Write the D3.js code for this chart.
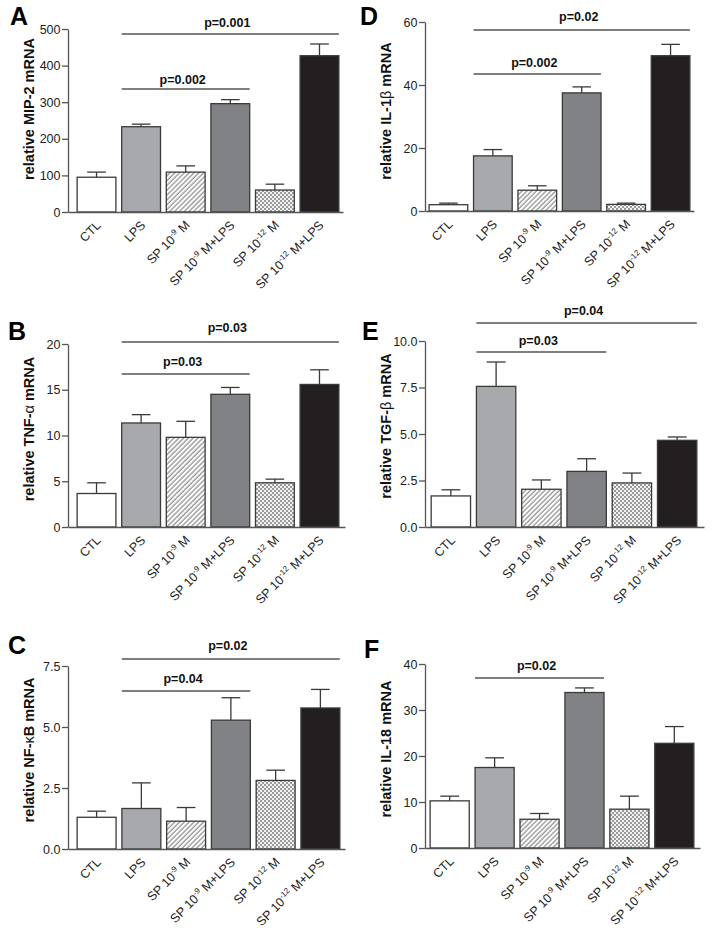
<!DOCTYPE html>
<html><head><meta charset="utf-8">
<script src="https://cdn.jsdelivr.net/npm/d3@7"></script>
<style>
html,body{margin:0;padding:0;background:#fff;}
svg{display:block;font-family:"Liberation Sans",Arial,Helvetica,sans-serif;}
</style>
</head><body>
<svg id="chart" width="714" height="938"></svg>
<script>
// ---------- data ----------
const categories = ["CTL","LPS","SP9","SP9LPS","SP12","SP12LPS"];
const labelBase = ["CTL","LPS","SP 10","SP 10","SP 10","SP 10"];
const labelSup  = ["","","-9","-9","-12","-12"];
const labelTail = ["",""," M"," M+LPS"," M"," M+LPS"];

const mip2Mean = [95, 233, 109, 296, 60, 427];
const mip2Sem  = [14, 7, 17, 11, 16, 32];
const il1bMean = [2.0, 17.5, 6.6, 37.5, 2.1, 49.3];
const il1bSem  = [0.5, 2.0, 1.4, 1.9, 0.4, 3.6];
const tnfMean  = [3.66, 11.37, 9.8, 14.5, 4.83, 15.58];
const tnfSem   = [1.17, 0.91, 1.75, 0.75, 0.4, 1.6];
const tgfMean  = [1.67, 7.56, 2.03, 2.99, 2.37, 4.66];
const tgfSem   = [0.33, 1.31, 0.5, 0.68, 0.53, 0.18];
const nfkbMean = [1.30, 1.66, 1.14, 5.28, 2.81, 5.78];
const nfkbSem  = [0.25, 1.05, 0.56, 0.92, 0.42, 0.76];
const il18Mean = [10.25, 17.5, 6.25, 33.8, 8.44, 22.76];
const il18Sem  = [1.02, 2.1, 1.25, 1.0, 2.83, 3.64];

const ticksA = [0,100,200,300,400,500];
const ticksD = [0,20,40,60];
const ticksB = [0,5,10,15,20];
const ticksE = [0,2.5,5,7.5,10];
const ticksC = [0,2.5,5,7.5];
const ticksF = [0,10,20,30,40];

const compsA = [{from:"LPS",to:"SP9LPS",p:"p=0.002"},{from:"LPS",to:"SP12LPS",p:"p=0.001"}];
const compsD = [{from:"LPS",to:"SP9LPS",p:"p=0.002"},{from:"LPS",to:"SP12LPS",p:"p=0.02"}];
const compsB = [{from:"LPS",to:"SP9LPS",p:"p=0.03"},{from:"LPS",to:"SP12LPS",p:"p=0.03"}];
const compsE = [{from:"LPS",to:"SP9LPS",p:"p=0.03"},{from:"LPS",to:"SP12LPS",p:"p=0.04"}];
const compsC = [{from:"LPS",to:"SP9LPS",p:"p=0.04"},{from:"LPS",to:"SP12LPS",p:"p=0.02"}];
const compsF = [{from:"LPS",to:"SP9LPS",p:"p=0.02"}];

const panels = [
  {letter:"A", title:"relative MIP-2 mRNA", mean:mip2Mean, sem:mip2Sem, ticks:ticksA, fmt:"d", comps:compsA},
  {letter:"D", title:"relative IL-1\u03B2 mRNA", mean:il1bMean, sem:il1bSem, ticks:ticksD, fmt:"d", comps:compsD},
  {letter:"B", title:"relative TNF-\u03B1 mRNA", mean:tnfMean, sem:tnfSem, ticks:ticksB, fmt:"d", comps:compsB},
  {letter:"E", title:"relative TGF-\u03B2 mRNA", mean:tgfMean, sem:tgfSem, ticks:ticksE, fmt:".1f", comps:compsE},
  {letter:"C", title:"relative NF-\u03BAB mRNA", mean:nfkbMean, sem:nfkbSem, ticks:ticksC, fmt:".1f", comps:compsC},
  {letter:"F", title:"relative IL-18 mRNA", mean:il18Mean, sem:il18Sem, ticks:ticksF, fmt:"d", comps:compsF}
];

// ---------- layout ----------
const layout = {
  A:{x0:68,  xEnd:343, yTop:29,  yBot:212, band:[74,342],  letter:[10,25],  titleY:109, lineY:[89,34],   textY:[84,27]},
  D:{x0:425, xEnd:694, yTop:22,  yBot:211, band:[426,693], letter:[360,25], titleY:111, lineY:[74,30],   textY:[67,21]},
  B:{x0:68,  xEnd:345, yTop:344, yBot:527, band:[74,342],  letter:[8,340],  titleY:429, lineY:[374,342], textY:[366,332]},
  E:{x0:425, xEnd:704, yTop:341, yBot:527, band:[428,700], letter:[362,340],titleY:426, lineY:[352,323], textY:[345,315]},
  C:{x0:68,  xEnd:345, yTop:666, yBot:849, band:[74,343],  letter:[8,654],  titleY:750, lineY:[691,659], textY:[683,650]},
  F:{x0:425, xEnd:700, yTop:664, yBot:848, band:[427,697], letter:[364,658],titleY:749, lineY:[678],     textY:[670]}
};

const fills = ["#ffffff","#a7a9ac","url(#hatch)","#808285","url(#checker)","#231f20"];
const strokeCol = "#3a3a3a";
const axisCol = "#555555";

const svg = d3.select("#chart");
const defs = svg.append("defs");
const hatch = defs.append("pattern").attr("id","hatch").attr("patternUnits","userSpaceOnUse")
  .attr("width",3.4).attr("height",3.4).attr("patternTransform","rotate(45)");
hatch.append("rect").attr("width",3.4).attr("height",3.4).attr("fill","#fff");
hatch.append("line").attr("x1",1).attr("x2",1).attr("y1",0).attr("y2",3.4)
  .attr("stroke","#8a8a8a").attr("stroke-width",1.2);
const checker = defs.append("pattern").attr("id","checker").attr("patternUnits","userSpaceOnUse")
  .attr("width",4).attr("height",4);
checker.append("rect").attr("width",4).attr("height",4).attr("fill","#f2f2f2");
checker.append("rect").attr("width",2).attr("height",2).attr("fill","#9a9a9a");
checker.append("rect").attr("x",2).attr("y",2).attr("width",2).attr("height",2).attr("fill","#9a9a9a");

panels.forEach(p => {
  const L = layout[p.letter];
  const g = svg.append("g");
  const x = d3.scaleBand().domain(categories).range(L.band).paddingInner(0.13).paddingOuter(0.07);
  const y = d3.scaleLinear().domain([0, p.ticks[p.ticks.length-1]]).range([L.yBot, L.yTop]);
  const rows = categories.map((c,i)=>({c, i, m:p.mean[i], s:p.sem[i]}));

  // error bars (upper only)
  const cap = x.bandwidth()*0.48;
  const eb = g.append("g");
  eb.selectAll("line.v").data(rows).join("line")
    .attr("x1",d=>x(d.c)+x.bandwidth()/2).attr("x2",d=>x(d.c)+x.bandwidth()/2)
    .attr("y1",d=>y(d.m)).attr("y2",d=>y(d.m+d.s))
    .attr("stroke",strokeCol).attr("stroke-width",1.3);
  eb.selectAll("line.h").data(rows).join("line")
    .attr("x1",d=>x(d.c)+x.bandwidth()/2-cap/2).attr("x2",d=>x(d.c)+x.bandwidth()/2+cap/2)
    .attr("y1",d=>y(d.m+d.s)).attr("y2",d=>y(d.m+d.s))
    .attr("stroke",strokeCol).attr("stroke-width",1.3);

  // bars
  g.append("g").selectAll("rect").data(rows).join("rect")
    .attr("x",d=>x(d.c)).attr("width",x.bandwidth())
    .attr("y",d=>y(d.m)).attr("height",d=>y(0)-y(d.m))
    .attr("fill",d=>fills[d.i]).attr("stroke",strokeCol).attr("stroke-width",1.3);

  // y axis
  const ya = g.append("g").attr("transform",`translate(${L.x0},0)`)
    .call(d3.axisLeft(y).tickValues(p.ticks).tickFormat(d3.format(p.fmt)).tickSize(6).tickSizeOuter(0).tickPadding(1.5));
  ya.select(".domain").attr("stroke",axisCol).attr("stroke-width",1.3);
  ya.selectAll(".tick line").attr("stroke",axisCol).attr("stroke-width",1.3);
  ya.selectAll(".tick text").attr("fill","#222").style("font-size","12.5px")
    .style("font-family",'"Liberation Sans",Arial,sans-serif');

  // x axis baseline
  const xa = g.append("g").attr("transform",`translate(0,${L.yBot})`)
    .call(d3.axisBottom(d3.scaleLinear().domain([0,1]).range([L.x0,L.xEnd])).tickValues([]).tickSizeOuter(0));
  xa.select(".domain").attr("stroke",axisCol).attr("stroke-width",1.3);

  // x labels rotated
  const lab = g.append("g").selectAll("text").data(rows).join("text")
    .attr("transform",d=>`translate(${x(d.c)+x.bandwidth()/2+5},${L.yBot+14}) rotate(-45)`)
    .attr("text-anchor","end").attr("fill","#222").style("font-size","12.5px");
  lab.each(function(d){
    const t = d3.select(this);
    t.append("tspan").text(labelBase[d.i]);
    if (labelSup[d.i]) {
      t.append("tspan").attr("dy",-5).style("font-size","8px").text(labelSup[d.i]);
      t.append("tspan").attr("dy",5).text(labelTail[d.i]);
    }
  });

  // y title
  const tt = g.append("text")
    .attr("transform",`translate(${L.x0-34},${L.titleY}) rotate(-90)`)
    .attr("text-anchor","middle").attr("fill","#111").style("font-size","14.5px").style("font-weight","bold");
  p.title.split(/([\u0370-\u03FF])/).filter(s=>s.length).forEach(s=>{
    const isGreek = /[\u0370-\u03FF]/.test(s);
    tt.append("tspan").text(s).style("font-weight", isGreek ? "normal" : "bold");
  });

  // significance brackets
  p.comps.forEach((c,k)=>{
    const x1 = x(c.from), x2 = x(c.to)+x.bandwidth();
    g.append("line").attr("x1",x1).attr("x2",x2).attr("y1",L.lineY[k]).attr("y2",L.lineY[k])
      .attr("stroke",axisCol).attr("stroke-width",1.3);
    g.append("text").attr("x",(x1+x2)/2-3).attr("y",L.textY[k]).attr("text-anchor","middle")
      .attr("fill","#111").style("font-size","12.5px").style("font-weight","bold").text(c.p);
  });

  // panel letter
  g.append("text").attr("x",L.letter[0]).attr("y",L.letter[1]).attr("fill","#000")
    .style("font-size","25px").style("font-weight","bold").text(p.letter);
});
</script>
</body></html>
